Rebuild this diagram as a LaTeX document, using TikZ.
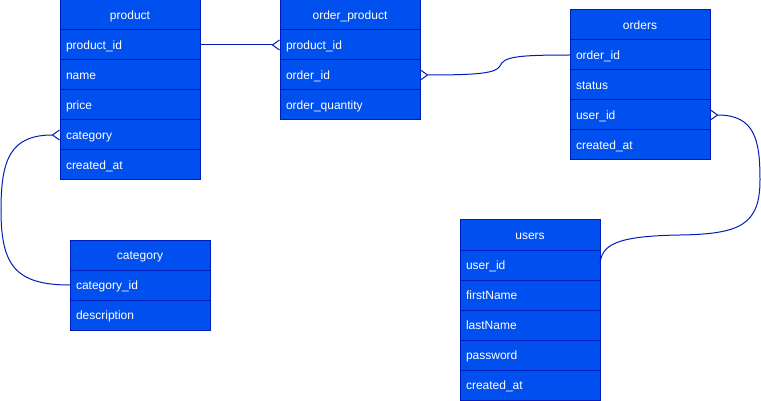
\documentclass[tikz,border=0pt]{standalone}
\usepackage{fontspec}
\setmainfont{Liberation Sans}
\usetikzlibrary{arrows.meta}
\definecolor{erfill}{HTML}{0050EF}
\definecolor{erline}{HTML}{001DBC}

\begin{document}
\begin{tikzpicture}[x=1pt,y=-1pt,
              every node/.style={draw=erline, fill=erfill, text=white, line width=1pt,
                font=\fontsize{12}{14}\selectfont, minimum width=140pt, minimum height=30pt,
                text height=12pt, text depth=3pt, anchor=north west, inner sep=0pt, outer sep=0pt},
              head/.style={align=center},
              row/.style={text width=128pt, align=left, inner xsep=6pt},
              link/.style={draw=erline, line width=1pt},
              many/.style={{Straight Barb[reversed,length=7pt,width=10pt]}-}
            ]
              \useasboundingbox (0,0) rectangle (761,401);
              % tables
              \node[head] (product) at (60,0) {product};
              \foreach \f [count=\i] in {product\_id,name,price,category,created\_at}
                \node[row] (product-\i) at (60,30*\i) {\f};
              \node[head] (op) at (280,0) {order\_product};
              \foreach \f [count=\i] in {product\_id,order\_id,order\_quantity}
                \node[row] (op-\i) at (280,30*\i) {\f};
              \node[head] (orders) at (570,10) {orders};
              \foreach \f [count=\i] in {order\_id,status,user\_id,created\_at}
                \node[row] (orders-\i) at (570,10+30*\i) {\f};
              \node[head] (category) at (70,240) {category};
              \foreach \f [count=\i] in {category\_id,description}
                \node[row] (category-\i) at (70,240+30*\i) {\f};
              \node[head] (users) at (460,220) {users};
              \foreach \f [count=\i] in {user\_id,firstName,lastName,password,created\_at}
                \node[row] (users-\i) at (460,220+30*\i) {\f};
              % relations
              \draw[link,many] (op-1.west) -- (product-1.east);
              \draw[link,many] (op-2.east) .. controls (480,75) and (496,73) .. (500,66)
                .. controls (504,57) and (515,55) .. (orders-1.west);
              \draw[link,many] (product-4.west) .. controls (10,135) and (1,160) .. (1,210)
                .. controls (1,265) and (15,285) .. (category-1.west);
              \draw[link,many] (orders-3.east) .. controls (755,115) and (760,140) .. (760,180)
                .. controls (760,225) and (740,234) .. (680,235)
                .. controls (615,236) and (601,245) .. (users-1.east);
            \end{tikzpicture}
\end{document}
